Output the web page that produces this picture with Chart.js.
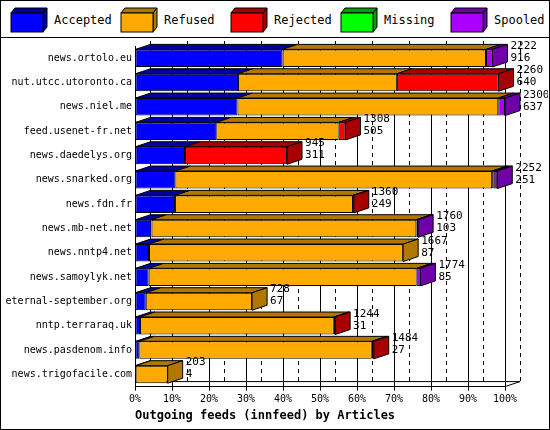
<!DOCTYPE html>
<html><head><meta charset="utf-8">
<script src="https://cdn.jsdelivr.net/npm/chart.js@4"></script>
<style>
body{margin:0;background:#fff;font-family:"DejaVu Sans Mono",monospace;}
#wrap{position:absolute;left:0;top:0;width:548px;height:428px;border:1px solid #000;}
#legend{height:36px;border-bottom:1px solid #000;position:relative;font-size:12px;}
.it{position:absolute;top:8px;height:22px;line-height:22px;}
.box{position:absolute;}
.it span{position:absolute;left:44px;top:0px;white-space:nowrap;}
#c{position:absolute;left:0;top:37px;}
</style></head><body>
<div id="wrap"><div id="legend"></div></div>
<canvas id="c" width="548" height="392"></canvas>
<script>
// data (article counts)
const hosts = ['news.ortolo.eu','nut.utcc.utoronto.ca','news.niel.me','feed.usenet-fr.net','news.daedelys.org','news.snarked.org','news.fdn.fr','news.mb-net.net','news.nntp4.net','news.samoylyk.net','eternal-september.org','nntp.terraraq.uk','news.pasdenom.info','news.trigofacile.com'];
const accepted = [916,640,637,505,311,251,249,103,87,85,67,31,27,4];
const refused  = [1266,988,1621,761,0,1969,1106,1646,1580,1666,661,1205,1445,199];
const rejected = [0,632,0,42,634,10,5,0,0,0,0,8,12,0];
const missing  = [0,0,0,0,0,0,0,0,0,0,0,0,0,0];
const spooled  = [40,0,42,0,0,22,0,11,0,23,0,0,0,0];
const totals   = [2222,2260,2300,1308,945,2252,1360,1760,1667,1774,728,1244,1484,203];
const names = ['Accepted','Refused','Rejected','Missing','Spooled'];
const front = ['#0000ff','#ffaa00','#ff0000','#00ff00','#aa00ff'];
const dark  = ['#0000a0','#b07800','#a80000','#00a000','#7000a8'];
const MAXV = 2300;

const lg = document.getElementById('legend');
names.forEach((n,i)=>{
  const d=document.createElement('div');d.className='it';d.style.left=(9+i*110)+'px';
  d.innerHTML='<svg class="box" width="40" height="26" style="top:-2px;left:0" viewBox="0 0 40 26"><polygon points="1,6 5,1 37,1 33,6" fill="'+dark[i]+'" stroke="#000"/><polygon points="33,6 37,1 37,20 33,25" fill="'+dark[i]+'" stroke="#000"/><rect x="1" y="6" width="32" height="19" fill="'+front[i]+'" stroke="#000"/></svg><span>'+n+'</span>';
  lg.appendChild(d);
});

const DX=15, DY=5;
const depth = {
  id:'depth',
  afterDatasetsDraw(ch){
    const ctx=ch.ctx;
    const n=ch.data.labels.length;
    for(let j=0;j<n;j++){
      let last=-1;
      ch.data.datasets.forEach((ds,i)=>{
        const el=ch.getDatasetMeta(i).data[j];
        if(!ds.data[j])return;
        last=i;
        const l=Math.min(el.x,el.base), r=Math.max(el.x,el.base), t=el.y-el.height/2;
        ctx.beginPath();ctx.moveTo(l,t);ctx.lineTo(l+DX,t-DY);ctx.lineTo(r+DX,t-DY);ctx.lineTo(r,t);ctx.closePath();
        ctx.fillStyle=dark[i];ctx.fill();ctx.strokeStyle='#000';ctx.lineWidth=1;ctx.stroke();
      });
      if(last<0)continue;
      const el=ch.getDatasetMeta(last).data[j];
      const r=Math.max(el.x,el.base), t=el.y-el.height/2, b=el.y+el.height/2;
      ctx.beginPath();ctx.moveTo(r,t);ctx.lineTo(r+DX,t-DY);ctx.lineTo(r+DX,b-DY);ctx.lineTo(r,b);ctx.closePath();
      ctx.fillStyle=dark[last];ctx.fill();ctx.stroke();
      ctx.fillStyle='#000';ctx.font='11px "DejaVu Sans Mono"';ctx.textAlign='left';ctx.textBaseline='middle';
      ctx.fillText(String(totals[j]),r+DX+3,el.y-12);
      ctx.fillText(String(accepted[j]),r+DX+3,el.y);
    }
  }
};

new Chart(document.getElementById('c'),{
  type:'bar',
  data:{labels:hosts,datasets:[accepted,refused,rejected,missing,spooled].map((d,i)=>({
    label:names[i],data:d,backgroundColor:front[i],borderColor:'#000',borderWidth:1,borderSkipped:false,
    categoryPercentage:0.72,barPercentage:1}))},
  options:{
    indexAxis:'y',responsive:false,animation:false,
    layout:{padding:{left:0,right:43,top:8,bottom:2}},
    plugins:{legend:{display:false},tooltip:{enabled:false}},
    scales:{
      x:{stacked:true,min:0,max:MAXV,
        ticks:{stepSize:MAXV/10,color:'#000',font:{family:'DejaVu Sans Mono',size:10},
          callback:v=>Math.round(v/MAXV*100)+'%'},
        grid:{color:'#000',tickLength:4,drawTicks:true},
        border:{display:true,color:'#000',dash:[]},
        title:{display:true,text:'Outgoing feeds (innfeed) by Articles',align:'start',color:'#000',
          font:{family:'DejaVu Sans Mono',size:12,weight:'bold'},padding:{top:0}}},
      y:{stacked:true,afterFit:s=>{s.width=135;},
        ticks:{color:'#000',padding:3,font:{family:'DejaVu Sans Mono',size:10}},
        grid:{display:false,drawTicks:false,tickLength:0},border:{color:'#000'}}
    }
  },
  plugins:[depth,{id:'dash',beforeDatasetsDraw(ch){
    const a=ch.chartArea,x=ch.scales.x,ctx=ch.ctx;
    ctx.save();ctx.strokeStyle='#000';ctx.setLineDash([4,4]);ctx.lineWidth=1;
    for(let k=1;k<=10;k++){const px=Math.round(x.getPixelForValue(MAXV*k/10))+DX+0.5;
      ctx.beginPath();ctx.moveTo(px,a.top-DY);ctx.lineTo(px,a.bottom-DY);ctx.stroke();}
    ctx.setLineDash([]);ctx.beginPath();ctx.moveTo(a.left+DX+0.5,a.top-DY);ctx.lineTo(a.left+DX+0.5,a.bottom-DY);
    ctx.lineTo(a.right+DX,a.bottom-DY);ctx.lineTo(a.right,a.bottom);ctx.stroke();
    ctx.restore();}}]
});
</script>
</body></html>
